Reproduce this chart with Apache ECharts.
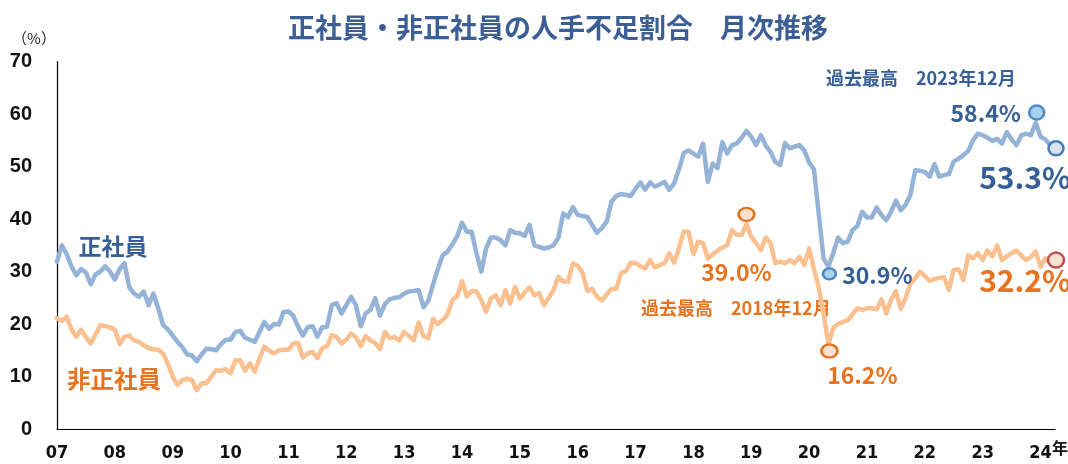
<!DOCTYPE html>
<html>
<head>
<meta charset="utf-8">
<title>正社員・非正社員の人手不足割合</title>
<script src="https://cdn.jsdelivr.net/npm/echarts@6/dist/echarts.min.js"></script>
<style>
  html, body { margin: 0; padding: 0; background: #fff; }
  #chart { width: 1068px; height: 464px; }
</style>
</head>
<body>
<div id="chart"></div>
<script>
// 月次データ 2007年1月〜2024年4月 (index 0 = 2007年1月)
const yearLabels = ['07', '08', '09', '10', '11', '12', '13', '14', '15', '16', '17', '18', '19', '20', '21', '22', '23', '24'];
const yTicks = [0, 10, 20, 30, 40, 50, 60, 70];

// 正社員
const seishain = [
  31.9, 35.0, 33.3, 31.0, 29.3, 30.5, 29.8, 27.6, 29.5, 30.0, 31.0, 30.0,
  28.5, 30.5, 31.6, 27.0, 25.8, 25.2, 26.2, 23.6, 25.8, 23.0, 19.8, 19.0,
  17.8, 16.6, 15.6, 14.2, 14.0, 12.9, 14.2, 15.3, 15.2, 15.0, 16.2, 17.0,
  17.0, 18.5, 18.7, 17.4, 17.0, 16.6, 18.5, 20.4, 19.1, 20.0, 19.9, 22.3,
  22.4, 21.6, 19.5, 17.8, 19.4, 19.6, 17.6, 19.4, 19.5, 23.6, 24.0, 22.0,
  23.6, 25.2, 23.6, 19.6, 22.0, 22.7, 24.9, 21.6, 23.8, 24.7, 25.0, 25.1,
  25.8, 26.2, 26.3, 26.5, 23.2, 24.4, 27.5, 30.5, 33.1, 33.8, 35.2, 36.7,
  39.3, 37.6, 37.6, 33.5, 30.0, 34.4, 36.5, 36.5, 36.0, 35.0, 37.9, 37.4,
  37.3, 36.8, 38.9, 35.0, 34.7, 34.4, 34.6, 35.0, 36.5, 41.1, 40.4, 42.3,
  40.8, 40.6, 40.4, 38.9, 37.4, 38.3, 39.5, 43.3, 44.4, 44.8, 44.6, 44.4,
  45.8, 47.0, 45.6, 47.0, 46.2, 46.6, 47.1, 45.6, 46.8, 49.5, 52.6, 53.1,
  52.5, 51.9, 54.4, 47.1, 50.6, 49.7, 54.7, 52.5, 54.1, 54.4, 55.5, 56.8,
  55.7, 54.1, 56.0, 54.0, 52.8, 50.9, 50.3, 54.5, 53.5, 53.8, 54.1, 53.1,
  50.8, 49.5, 41.0, 32.5, 30.9, 33.5, 36.5, 35.4, 35.7, 37.9, 38.7, 41.4,
  40.3, 40.3, 42.2, 40.8, 39.8, 41.4, 43.5, 41.7, 42.7, 44.6, 49.3, 49.2,
  49.0, 48.1, 50.5, 48.1, 48.4, 48.6, 51.0, 51.5, 52.2, 53.0, 55.0, 56.3,
  56.0, 55.5, 54.9, 55.3, 54.4, 56.6, 55.2, 54.1, 56.0, 56.3, 56.0, 58.4,
  55.7, 55.2, 54.1, 53.3
];

// 非正社員
const hiseishain = [
  21.1, 20.6, 21.4, 19.0, 17.6, 18.9, 17.5, 16.3, 18.0, 19.8, 19.6, 19.4,
  18.9, 16.2, 17.6, 17.8, 16.9, 16.6, 16.0, 15.4, 15.2, 15.1, 14.4, 12.5,
  10.0, 8.4, 9.3, 9.6, 9.3, 7.4, 8.7, 8.7, 10.0, 11.2, 11.1, 11.4,
  10.6, 13.1, 13.1, 11.1, 12.5, 10.9, 13.5, 15.7, 14.9, 14.4, 15.0, 15.1,
  15.1, 16.3, 16.4, 13.6, 14.4, 14.7, 13.5, 15.4, 15.8, 17.9, 17.5, 16.3,
  17.0, 18.2, 17.5, 15.8, 17.7, 16.9, 16.4, 15.2, 18.5, 17.3, 17.5, 16.9,
  18.5, 17.7, 16.9, 20.3, 17.7, 17.3, 21.0, 20.0, 20.8, 21.8, 24.6, 25.3,
  28.2, 25.3, 26.3, 26.2, 24.6, 22.3, 24.9, 25.5, 23.6, 26.5, 23.9, 27.1,
  24.9, 26.0, 27.0, 25.5, 25.9, 23.6, 25.0, 26.5, 29.0, 28.1, 28.1, 31.6,
  31.1, 29.8, 26.3, 26.7, 25.2, 24.5, 25.6, 26.7, 26.7, 29.7, 30.1, 31.7,
  31.6, 31.0, 30.6, 32.2, 30.8, 31.2, 31.6, 33.5, 31.7, 34.5, 37.6, 37.6,
  33.3, 35.7, 35.4, 32.5, 33.3, 34.0, 34.6, 35.0, 37.9, 37.0, 37.0, 39.0,
  36.6, 35.4, 34.1, 36.5, 35.4, 31.6, 31.9, 31.6, 32.2, 31.6, 32.8, 31.3,
  34.4, 30.5, 27.0, 22.0, 16.2, 19.2, 20.0, 20.4, 20.7, 21.9, 23.0, 22.7,
  23.0, 23.0, 22.8, 24.7, 22.0, 24.6, 26.3, 22.9, 24.9, 27.7, 28.7, 30.0,
  29.2, 28.2, 28.6, 28.8, 28.9, 26.5, 30.3, 30.4, 28.4, 33.1, 32.5, 33.5,
  32.2, 34.0, 32.9, 35.0, 32.2, 32.9, 33.5, 34.0, 33.1, 32.2, 32.8, 33.8,
  30.9, 32.5, 31.9, 32.2
];

// 注目する月 (index)
const seiPeak = 203;   // 2023年12月
const hiPeak = 143;    // 2018年12月
const covidLow = 160;  // 2020年5月
const lastIdx = seishain.length - 1;

const BLUE_LINE = '#95B3D7';
const ORANGE_LINE = '#FAC090';
const BLUE_TEXT = '#365F96';
const ORANGE_TEXT = '#E8731E';
const JP = '"Noto Sans CJK JP", "Noto Sans", sans-serif';

function pct(v) { return v.toFixed(1) + '%'; }

function mark(series, idx, opt) {
  return {
    coord: [idx, series[idx]],
    symbolSize: opt.size,
    symbolOffset: opt.shift,
    itemStyle: { color: opt.fill, borderColor: opt.border, borderWidth: 2.5 },
    label: {
      formatter: pct(series[idx]),
      offset: opt.textOffset,
      fontSize: opt.fontSize
    }
  };
}

const chart = echarts.init(document.getElementById('chart'));

chart.setOption({
  backgroundColor: '#fff',
  animation: false,
  title: {
    text: '正社員・非正社員の人手不足割合　月次推移',
    left: 283,
    top: 9,
    textStyle: { color: '#3B5E95', fontSize: 27, fontWeight: 'bold', fontFamily: JP }
  },
  grid: { left: 57, right: 13, top: 61.7, bottom: 35 },
  xAxis: {
    type: 'value',
    min: 0,
    max: lastIdx,
    interval: 12,
    axisLine: { lineStyle: { color: '#000', width: 1.2 } },
    axisTick: { show: false },
    splitLine: { show: false },
    axisLabel: {
      showMaxLabel: false,
      margin: 15,
      color: '#111',
      fontSize: 18,
      fontWeight: 'bold',
      fontFamily: '"Liberation Sans Narrow", "DejaVu Sans Condensed", sans-serif',
      formatter: function (v) { return v % 12 === 0 ? (yearLabels[v / 12] || '') : ''; }
    }
  },
  yAxis: {
    type: 'value',
    min: yTicks[0],
    max: yTicks[yTicks.length - 1],
    interval: 10,
    axisLine: { show: true, lineStyle: { color: '#000', width: 1.2 } },
    axisTick: { show: false },
    splitLine: { show: false },
    axisLabel: {
      margin: 25,
      color: '#111',
      fontSize: 20,
      fontWeight: 'bold',
      fontFamily: '"Liberation Sans", Arial, sans-serif'
    }
  },
  series: [
    {
      name: '正社員',
      type: 'line',
      data: seishain.map(function (v, i) { return [i, v]; }),
      showSymbol: false,
      symbol: 'none',
      clip: false,
      lineStyle: { color: BLUE_LINE, width: 4.5, cap: 'round', join: 'round' },
      z: 2,
      markPoint: {
        symbol: 'circle',
        silent: true,
        label: {
          show: true,
          position: 'inside',
          color: BLUE_TEXT,
          fontWeight: 'bold',
          fontFamily: JP
        },
        data: [
          mark(seishain, seiPeak, { size: [15, 14], shift: [1, -10], fill: '#A6D4EA', border: '#4F8ACB', textOffset: [-51, 1], fontSize: 23 }),
          mark(seishain, lastIdx, { size: [15, 14], shift: [1, -1], fill: '#DAE3F0', border: '#4A7DBA', textOffset: [-31, 29], fontSize: 30 }),
          mark(seishain, covidLow, { size: [13, 11], shift: [1, 7], fill: '#A9D4E6', border: '#4B86C9', textOffset: [48, 1], fontSize: 23 })
        ]
      }
    },
    {
      name: '非正社員',
      type: 'line',
      data: hiseishain.map(function (v, i) { return [i, v]; }),
      showSymbol: false,
      symbol: 'none',
      clip: false,
      lineStyle: { color: ORANGE_LINE, width: 4.5, cap: 'round', join: 'round' },
      z: 2,
      markPoint: {
        symbol: 'circle',
        silent: true,
        label: {
          show: true,
          position: 'inside',
          color: ORANGE_TEXT,
          fontWeight: 'bold',
          fontFamily: JP
        },
        data: [
          mark(hiseishain, hiPeak, { size: [16, 13], shift: [0, -10], fill: '#FBE3D4', border: '#E4741F', textOffset: [-10, 58], fontSize: 23 }),
          mark(hiseishain, covidLow, { size: [16, 13], shift: [1, 7], fill: '#FBE3D4', border: '#E4741F', textOffset: [33, 24], fontSize: 23 }),
          mark(hiseishain, lastIdx, { size: [16, 15], shift: [1, 0], fill: '#FBE3D4', border: '#C0504D', textOffset: [-31, 21], fontSize: 30 })
        ]
      }
    }
  ],
  graphic: [
    { type: 'text', x: 34, y: 38, style: { text: '（%）', font: '15px ' + JP, fill: '#222', align: 'center', verticalAlign: 'middle' } },
    { type: 'text', x: 1060, y: 448, style: { text: '年', font: 'bold 16px ' + JP, fill: '#111', align: 'center', verticalAlign: 'middle' } },
    { type: 'text', x: 113, y: 246, style: { text: '正社員', font: 'bold 23px ' + JP, fill: BLUE_TEXT, align: 'center', verticalAlign: 'middle' } },
    { type: 'text', x: 114, y: 379, style: { text: '非正社員', font: 'bold 23.5px ' + JP, fill: ORANGE_TEXT, align: 'center', verticalAlign: 'middle' } },
    { type: 'text', x: 826, y: 78, style: { text: '過去最高　2023年12月', font: 'bold 18px ' + JP, fill: BLUE_TEXT, align: 'left', verticalAlign: 'middle' } },
    { type: 'text', x: 641, y: 308, style: { text: '過去最高　2018年12月', font: 'bold 18px ' + JP, fill: ORANGE_TEXT, align: 'left', verticalAlign: 'middle' } }
  ]
});
</script>
</body>
</html>
